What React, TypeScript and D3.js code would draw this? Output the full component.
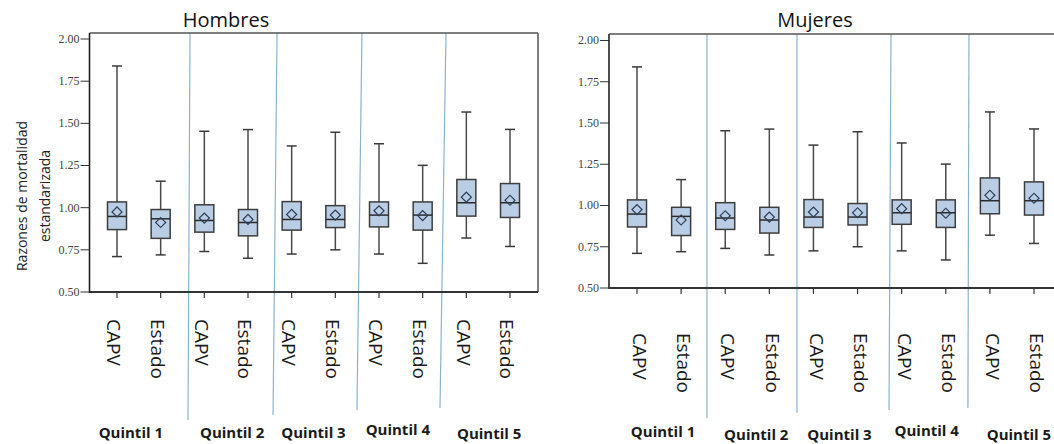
import React from "react";
import * as d3 from "d3";

// Axis categories (two areas per income quintile)
const categoryLabels = ["CAPV", "Estado", "CAPV", "Estado", "CAPV", "Estado", "CAPV", "Estado", "CAPV", "Estado"];
const quintiles = ["Quintil 1", "Quintil 2", "Quintil 3", "Quintil 4", "Quintil 5"];
const yTicks = [0.5, 0.75, 1.0, 1.25, 1.5, 1.75, 2.0];

// Standardised mortality ratios – box-plot summaries per category
const whiskerLow = [0.71, 0.72, 0.74, 0.70, 0.725, 0.75, 0.725, 0.67, 0.82, 0.77];
const quartile1 = [0.87, 0.818, 0.855, 0.833, 0.867, 0.882, 0.886, 0.867, 0.95, 0.942];
const medians = [0.948, 0.934, 0.924, 0.912, 0.93, 0.93, 0.956, 0.956, 1.029, 1.029];
const quartile3 = [1.034, 0.989, 1.017, 0.989, 1.036, 1.012, 1.034, 1.034, 1.167, 1.143];
const whiskerHigh = [1.84, 1.157, 1.453, 1.463, 1.366, 1.447, 1.379, 1.251, 1.567, 1.464];
const means = [0.975, 0.912, 0.938, 0.93, 0.96, 0.956, 0.981, 0.953, 1.062, 1.044];

const W = 1054;
const H = 444;
const fmt = d3.format(".2f");

const BOX_FILL = "#b9cde5";
const BOX_STROKE = "#3d3d3d";
const SEP = "#8db2cc";

type Layout = {
  title: string;
  left: number;
  right: number;
  top: number;
  bottom: number;
  yTop: number;
  xFirst: number;
  xLast: number;
  titleX: number;
  labelTop: number;
  labelShift: number;
  sepTopNudge: number[];
  sepBottomNudge: number[];
  sepBottomY: number[];
  quintilDx: number[];
  quintilDy: number[];
  yTitle: boolean;
};

const panels: Layout[] = [
  {
    title: "Hombres",
    left: 89.5, right: 538, top: 33, bottom: 292, yTop: 39,
    xFirst: 117, xLast: 510, titleX: 226,
    labelTop: 319, labelShift: -3,
    sepTopNudge: [7.5, 7.2, 4.8, 1.5],
    sepBottomNudge: [5.5, 3.2, -0.2, -4.5],
    sepBottomY: [420, 415, 410, 408],
    quintilDx: [-8, 6, 0, -3, 1],
    quintilDy: [0, 0, 0, -3, 1],
    yTitle: true,
  },
  {
    title: "Mujeres",
    left: 609, right: 1062, top: 34, bottom: 288, yTop: 40.5,
    xFirst: 637, xLast: 1034, titleX: 815,
    labelTop: 333, labelShift: 3,
    sepTopNudge: [3.8, 5.6, 11.4, 1.1],
    sepBottomNudge: [3.8, 5.6, 9.4, 0.1],
    sepBottomY: [418, 413, 410, 408],
    quintilDx: [4, 9, 4, 3, 7],
    quintilDy: [-1, 2, 2, -2, 2],
    yTitle: false,
  },
];

const diamond = d3.symbol().type(d3.symbolSquare).size(50)() as string;

function Panel({ p }: { p: Layout }) {
  const idx = d3.range(categoryLabels.length);
  const x = d3.scalePoint<number>().domain(idx).range([p.xFirst, p.xLast]);
  const y = d3.scaleLinear().domain([0.5, 2.0]).range([p.bottom, p.yTop]);
  const bw = 19;
  const cap = 5;
  const capH = 0.714 * 19;

  return (
    <g>
      {/* quintile separators */}
      {d3.range(quintiles.length - 1).map((i) => {
        const mid = ((x(2 * i + 1) as number) + (x(2 * i + 2) as number)) / 2;
        return (
          <line
            key={"sep" + i}
            x1={mid + p.sepTopNudge[i]}
            x2={mid + p.sepBottomNudge[i]}
            y1={p.top}
            y2={p.sepBottomY[i]}
            stroke={SEP}
            strokeWidth={1.2}
          />
        );
      })}

      {/* frame */}
      <line x1={p.left} x2={p.right} y1={p.top} y2={p.top} stroke="#555" strokeWidth={1.5} />
      <line x1={p.right} x2={p.right} y1={p.top} y2={p.bottom} stroke="#555" strokeWidth={1.5} />
      <line x1={p.left} x2={p.left} y1={p.top} y2={p.bottom + 1} stroke="#222" strokeWidth={1.6} />
      <line x1={p.left} x2={p.right} y1={p.bottom} y2={p.bottom} stroke="#333" strokeWidth={1.8} />

      {/* y ticks */}
      {yTicks.map((t) => (
        <g key={"yt" + t}>
          <line x1={p.left - 9} x2={p.left} y1={y(t)} y2={y(t)} stroke="#333" strokeWidth={1} />
          <text
            x={p.left - 10}
            y={y(t)}
            dy="0.33em"
            textAnchor="end"
            fontFamily="'Liberation Serif', serif"
            fontSize={12}
            fill="#444"
          >
            {fmt(t)}
          </text>
        </g>
      ))}

      {/* x ticks and rotated category labels */}
      {idx.map((i) => {
        const cx = x(i) as number;
        return (
          <g key={"xt" + i}>
            <line x1={cx} x2={cx} y1={p.bottom} y2={p.bottom + 6} stroke="#333" strokeWidth={1.2} />
            <text
              transform={`translate(${cx + p.labelShift - capH / 2},${p.labelTop}) rotate(90)`}
              fontFamily="'Open Sans', sans-serif"
              fontSize={19}
              fill="#1a1a1a"
            >
              {categoryLabels[i]}
            </text>
          </g>
        );
      })}

      {/* boxes */}
      {idx.map((i) => {
        const cx = x(i) as number;
        return (
          <g key={"box" + i}>
            <line x1={cx} x2={cx} y1={y(whiskerHigh[i])} y2={y(quartile3[i])} stroke="#4a4a4a" strokeWidth={1.5} />
            <line x1={cx} x2={cx} y1={y(quartile1[i])} y2={y(whiskerLow[i])} stroke="#4a4a4a" strokeWidth={1.5} />
            <line x1={cx - cap} x2={cx + cap} y1={y(whiskerHigh[i])} y2={y(whiskerHigh[i])} stroke="#3a3a3a" strokeWidth={1.5} />
            <line x1={cx - cap} x2={cx + cap} y1={y(whiskerLow[i])} y2={y(whiskerLow[i])} stroke="#3a3a3a" strokeWidth={1.5} />
            <rect
              x={cx - bw / 2}
              y={y(quartile3[i])}
              width={bw}
              height={y(quartile1[i]) - y(quartile3[i])}
              fill={BOX_FILL}
              stroke={BOX_STROKE}
              strokeWidth={1.5}
            />
            <line x1={cx - bw / 2} x2={cx + bw / 2} y1={y(medians[i])} y2={y(medians[i])} stroke="#2b2b2b" strokeWidth={1.5} />
            <path
              d={diamond}
              transform={`translate(${cx},${y(means[i])}) rotate(45)`}
              fill="none"
              stroke="#2c3e55"
              strokeWidth={1.2}
            />
          </g>
        );
      })}

      {/* quintile labels */}
      {quintiles.map((q, i) => {
        const gc = ((x(2 * i) as number) + (x(2 * i + 1) as number)) / 2;
        return (
          <text
            key={q}
            x={gc + p.quintilDx[i]}
            y={438 + p.quintilDy[i]}
            textAnchor="middle"
            fontFamily="'Open Sans', sans-serif"
            fontWeight={700}
            fontSize={15}
            fill="#1a1a1a"
          >
            {q}
          </text>
        );
      })}

      {/* panel title */}
      <text
        x={p.titleX}
        y={26.5}
        textAnchor="middle"
        fontFamily="'Open Sans', sans-serif"
        fontSize={20}
        fill="#111"
      >
        {p.title}
      </text>

      {p.yTitle && (
        <g fontFamily="'Open Sans', sans-serif" fontSize={14} fill="#222" textAnchor="middle">
          <text transform="translate(26.5,196) rotate(-90)">Razones de mortalidad</text>
          <text transform="translate(49.5,196) rotate(-90)">estandarizada</text>
        </g>
      )}
    </g>
  );
}

export default function App() {
  return (
    <svg
      width={W}
      height={H}
      viewBox={`0 0 ${W} ${H}`}
      style={{ position: "absolute", left: 0, top: 0, background: "#fff" }}
    >
      <rect width={W} height={H} fill="#fff" />
      {panels.map((p) => (
        <Panel key={p.title} p={p} />
      ))}
    </svg>
  );
}
